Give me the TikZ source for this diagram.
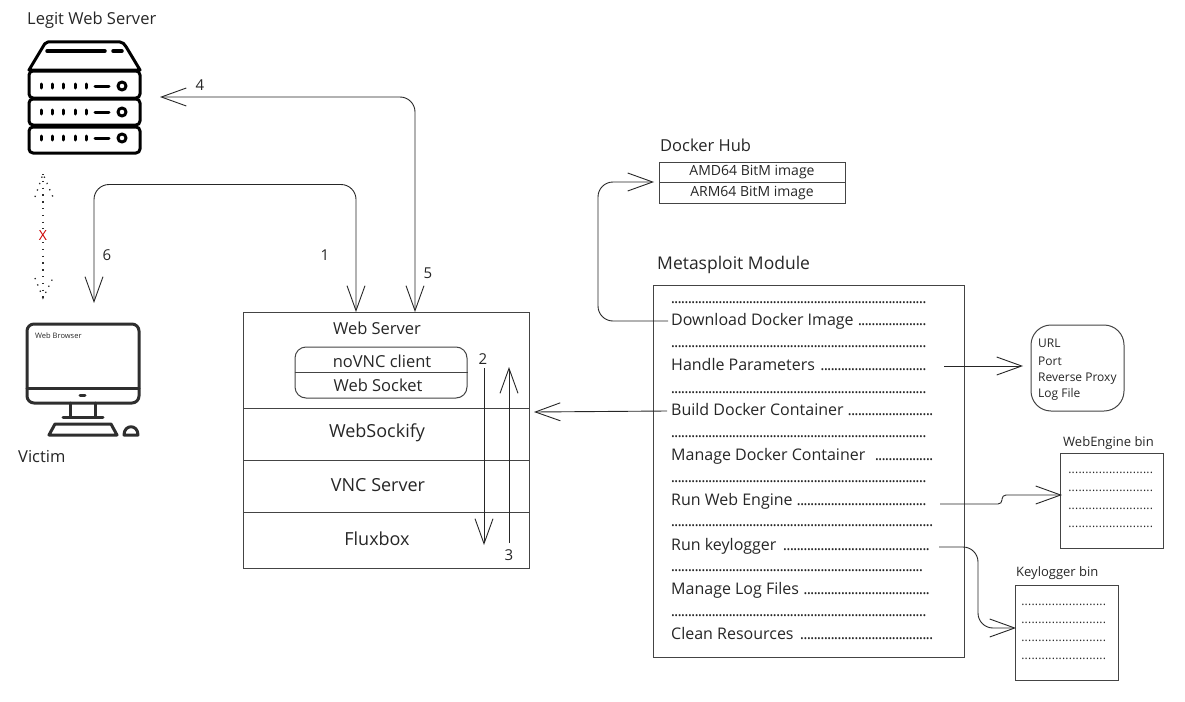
\documentclass[tikz,border=0pt]{standalone}
\usepackage{fontspec}
\setmainfont{Open Sans}
\usetikzlibrary{arrows.meta}
\definecolor{boxline}{HTML}{444444}
\definecolor{inktext}{HTML}{262626}
\definecolor{iconink}{HTML}{2E2E2E}
\newcommand{\dotrow}[1]{\hbox to #1pt{\leaders\hbox to 3.4pt{\hss.\hss}\hfill}}
\newcommand{\labelrow}[2]{\hbox to #1pt{#2\ \leaders\hbox to 3.4pt{\hss.\hss}\hfill}}
\begin{document}
\begin{tikzpicture}[x=1pt,y=-1pt,inner sep=0pt,
	title text/.style={font=\fontsize{16.5}{19}\selectfont,text=inktext},
	big text/.style={font=\fontsize{18}{21}\selectfont,text=inktext},
	step num/.style={font=\fontsize{15}{18}\selectfont,text=inktext},
	module row/.style={anchor=base west,font=\fontsize{16}{19}\selectfont,text=inktext},
	small row/.style={anchor=base west,font=\fontsize{12}{14}\selectfont,text=inktext},
	bin row/.style={anchor=base west,font=\fontsize{12}{14}\selectfont,text=inktext},
	bin title/.style={anchor=base west,font=\fontsize{13}{15}\selectfont,text=inktext},
	layer/.style={draw=boxline,line width=1pt,minimum width=286pt},
	bin box/.style={draw=boxline,line width=1pt,minimum width=103pt,minimum height=95pt},
	hub row/.style={draw=boxline,line width=1pt,minimum width=186pt,minimum height=20.5pt,
		font=\fontsize{14}{16}\selectfont,text=inktext},
	conn/.style={draw=black!85,line width=0.9pt,rounded corners=15pt,
		arrows={-Straight Barb[length=25pt,width=18pt]}},
	twoway/.style={conn,arrows={Straight Barb[length=25pt,width=18pt]-Straight Barb[length=25pt,width=18pt]}},
	dot line/.style={line width=1.3pt,dash pattern=on 1.3pt off 5.5pt,color=iconink},
	icon/.style={draw=black,line width=3pt,line join=round,line cap=round},
	screen/.style={draw=iconink,line width=3pt,line join=round,line cap=round}]
	\useasboundingbox (0,0) rectangle (1185,701);

	% legit web server
	\node[title text,anchor=base west] (legit) at (27,25) {Legit Web Server};
	\draw[icon] (29,70) -- (44,45) [rounded corners=2pt] -- (46,42) -- (122,42) -- (125,45) [sharp corners] -- (140,70) -- cycle;
	\draw[icon,line width=3.5pt] (47,51) -- (105,51) (113,51) -- (122,51);
	\draw[icon,rounded corners=4pt] (29,71) rectangle (140,98);
	\draw[icon,rounded corners=4pt] (29,99) rectangle (140,125);
	\draw[icon,rounded corners=4pt] (29,127) rectangle (140,153);
	\foreach \rowy in {86,112,138}{
		\foreach \barx in {41,52,63,75,86}
			\draw[icon] (\barx,\rowy-2) -- (\barx,\rowy+2);
		\draw[icon] (95,\rowy) -- (109,\rowy);
		\draw[icon] (122,\rowy) circle (4pt);
	}
	\coordinate (legitIn) at (160,97);

	% blocked path
	\coordinate (dotTop) at (43,174);
	\coordinate (dotBot) at (43,298);
	\draw[dot line] (dotTop) -- (dotBot);
	\draw[dot line] (35,197) -- (dotTop) -- (53,197);
	\draw[dot line] (35,278) -- (dotBot) -- (53,278);
	\node[text=red!80!black,font=\fontsize{14}{16}\selectfont,fill=white,inner sep=1pt] (blocked) at (43,235) {X};

	% victim
	\draw[screen,rounded corners=7pt] (27,324) rectangle (139,403);
	\draw[screen] (27,388) -- (139,388);
	\draw[screen] (80,395) -- (85,395);
	\draw[screen] (70,403) -- (70,416) (95,403) -- (95,416) (63,417) -- (103,417);
	\draw[screen] (55,424) -- (111,424) -- (117,435) -- (49,435) -- cycle;
	\draw[screen] (124,435) .. controls (124,424) and (138,424) .. (138,435) -- cycle;
	\node[anchor=base west,font=\fontsize{7.5}{10}\selectfont,text=inktext] (browser) at (35,338) {Web Browser};
	\node[title text,anchor=base west] (victim) at (18,462) {Victim};
	\coordinate (victimIn) at (94,303);

	% web server stack
	\node[layer,minimum height=96pt] (webserver) at (386,360) {};
	\node[layer,minimum height=52pt] (websockify) at (386,434) {};
	\node[layer,minimum height=52pt] (vncserver) at (386,486) {};
	\node[layer,minimum height=56pt] (fluxbox) at (386,540) {};
	\node[title text] (webserverText) at (377,328) {Web Server};
	\node[big text] (websockifyText) at (377,433) {WebSockify};
	\node[big text] (vncText) at (378,485) {VNC Server};
	\node[big text] (fluxboxText) at (377,539) {Fluxbox};
	\node[draw=boxline,line width=1pt,rounded corners=11pt,minimum width=172pt,minimum height=51pt] (pill) at (381,372.5) {};
	\draw[boxline,line width=1pt] (pill.west) -- (pill.east);
	\node[title text] (novnc) at (382,361) {noVNC client};
	\node[title text] (socket) at (378,385) {Web Socket};

	\coordinate (twoTop) at (484,368);
	\coordinate (twoBot) at (484,545);
	\coordinate (threeBot) at (509,543);
	\coordinate (threeTop) at (509,367);
	\draw[conn] (twoTop) -- (twoBot);
	\draw[conn] (threeBot) -- (threeTop);
	\node[step num] (two) at (483,359) {2};
	\node[step num] (three) at (509,555) {3};

	% connectors on the left
	\coordinate (wsInOne) at (356,312);
	\coordinate (wsInFive) at (415,312);
	\draw[twoway] (legitIn) -| (wsInFive);
	\draw[twoway] (victimIn) |- (200,184.5) -| (wsInOne);
	\node[step num] (four) at (200,85) {4};
	\node[step num] (one) at (325,255) {1};
	\node[step num] (five) at (428,273) {5};
	\node[step num] (six) at (107,255) {6};

	% docker hub
	\node[title text,anchor=base west] (hub) at (660,151) {Docker Hub};
	\node[hub row] (amd) at (752,172.5) {AMD64 BitM image};
	\node[hub row] (arm) at (752,193) {ARM64 BitM image};
	\coordinate (hubIn) at (654,182);

	% metasploit module
	\node[big text,font=\fontsize{17.5}{20}\selectfont,anchor=base west] (metasploit) at (657,269) {Metasploit Module};
	\node[draw=boxline,line width=1pt,minimum width=311pt,minimum height=372pt] (module) at (808.5,471) {};
	\node[module row] (dotsA) at (671,303) {\dotrow{258}};
	\node[module row] (download) at (671,325) {\labelrow{258}{Download Docker Image}};
	\node[module row] (dotsB) at (671,347) {\dotrow{258}};
	\node[module row] (params) at (671,370) {\labelrow{258}{Handle Parameters}};
	\node[module row] (dotsC) at (671,393) {\dotrow{258}};
	\node[module row] (build) at (671,415) {\labelrow{262}{Build Docker Container}};
	\node[module row] (dotsD) at (671,437) {\dotrow{258}};
	\node[module row] (manage) at (671,460) {\labelrow{264}{Manage Docker Container\ }};
	\node[module row] (dotsE) at (671,482) {\dotrow{258}};
	\node[module row] (engine) at (671,505) {\labelrow{257}{Run Web Engine}};
	\node[module row] (dotsF) at (671,526) {\dotrow{262}};
	\node[module row] (keylog) at (671,550) {\labelrow{259}{Run keylogger}};
	\node[module row] (dotsG) at (671,571) {\dotrow{254}};
	\node[module row] (logs) at (671,594) {\labelrow{259}{Manage Log Files}};
	\node[module row] (dotsH) at (671,616) {\dotrow{258}};
	\node[module row] (clean) at (671,639) {\labelrow{264}{Clean Resources}};

	% parameters
	\node[draw=boxline,line width=1pt,rounded corners=20pt,minimum width=93pt,minimum height=86pt] (paramBox) at (1077.5,368) {};
	\node[small row] (url) at (1038,347) {URL};
	\node[small row] (port) at (1038,365) {Port};
	\node[small row] (proxy) at (1038,381) {Reverse Proxy};
	\node[small row] (logfile) at (1038,397) {Log File};

	% bins
	\node[bin title] (engineTitle) at (1063,446) {WebEngine bin};
	\node[bin box] (engineBin) at (1111.5,501) {};
	\node[bin row] (engineA) at (1068,473) {\dotrow{87}};
	\node[bin row] (engineB) at (1068,491) {\dotrow{87}};
	\node[bin row] (engineC) at (1068,509) {\dotrow{87}};
	\node[bin row] (engineD) at (1068,527) {\dotrow{87}};
	\node[bin title] (keyTitle) at (1016,576) {Keylogger bin};
	\node[bin box] (keyBin) at (1066.5,632.5) {};
	\node[bin row] (keyA) at (1021,605) {\dotrow{87}};
	\node[bin row] (keyB) at (1021,623) {\dotrow{87}};
	\node[bin row] (keyC) at (1021,641) {\dotrow{87}};
	\node[bin row] (keyD) at (1021,659) {\dotrow{87}};

	% connectors from the module
	\coordinate (downloadOut) at (668,321);
	\coordinate (buildOut) at (667,411);
	\coordinate (stackIn) at (534,412);
	\coordinate (paramsOut) at (944,366);
	\coordinate (paramsIn) at (1023,366);
	\coordinate (engineOut) at (940,504);
	\coordinate (engineIn) at (1062,495);
	\coordinate (keylogOut) at (939,547);
	\coordinate (keylogIn) at (1016,628);
	\draw[conn] (downloadOut) -- (598,321) -- (598,182) -- (hubIn);
	\draw[conn] (buildOut) -- (stackIn);
	\draw[conn] (paramsOut) -- (paramsIn);
	\draw[conn,rounded corners=4pt] (engineOut) -- (1002,504) -- (1002,495) -- (engineIn);
	\draw[conn,rounded corners=15pt] (keylogOut) -- (978,547) -- (978,628) -- (keylogIn);
\end{tikzpicture}
\end{document}
